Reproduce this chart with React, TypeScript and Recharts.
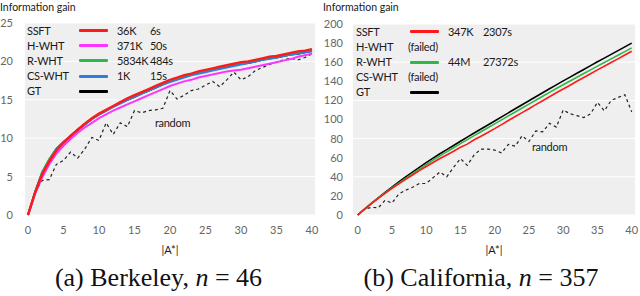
import React from 'react';
import { LineChart, Line, XAxis, YAxis, CartesianGrid } from 'recharts';

const X_VALUES = [0,1,2,3,4,5,6,7,8,9,10,11,12,13,14,15,16,17,18,19,20,21,22,23,24,25,26,27,28,29,30,31,32,33,34,35,36,37,38,39,40];
const X_TICKS = [0,5,10,15,20,25,30,35,40];
const LEFT_Y_TICKS = [0,5,10,15,20,25];
const RIGHT_Y_TICKS = [0,20,40,60,80,100,120,140,160,180,200];

// Berkeley, n = 46
const B_SSFT = [0,2.9,5.3,7.0,8.4,9.4,10.3,11.1,11.9,12.6,13.2,13.7,14.2,14.7,15.2,15.6,16.0,16.4,16.8,17.2,17.6,17.9,18.2,18.4,18.7,18.9,19.1,19.3,19.5,19.7,19.9,20.0,20.2,20.4,20.6,20.7,20.9,21.1,21.3,21.4,21.6];
const B_HWHT = [0,2.8,4.9,6.6,8.0,9.0,9.9,10.7,11.4,12.0,12.6,13.1,13.6,14.0,14.4,14.8,15.2,15.6,16.0,16.4,16.8,17.1,17.4,17.6,17.9,18.1,18.3,18.5,18.7,18.8,18.9,19.1,19.3,19.5,19.7,19.9,20.1,20.3,20.6,20.8,21.0];
const B_RWHT = [0,3.0,5.6,7.3,8.6,9.5,10.3,11.1,11.8,12.5,13.1,13.6,14.1,14.6,15.0,15.4,15.8,16.2,16.6,17.0,17.4,17.7,18.0,18.3,18.5,18.7,18.9,19.1,19.3,19.5,19.7,19.9,20.0,20.2,20.4,20.6,20.7,20.9,21.1,21.2,21.4];
const B_CSWHT = [0,2.9,5.4,7.1,8.5,9.4,10.3,11.0,11.8,12.5,13.1,13.6,14.1,14.5,15.0,15.4,15.8,16.2,16.6,17.0,17.3,17.6,17.9,18.2,18.4,18.6,18.8,19.0,19.2,19.4,19.6,19.8,20.0,20.2,20.3,20.5,20.7,20.9,21.0,21.2,21.3];
const B_GT = [0,3.0,5.5,7.2,8.6,9.5,10.3,11.1,11.8,12.5,13.1,13.6,14.1,14.6,15.0,15.4,15.8,16.2,16.6,17.0,17.4,17.7,18.0,18.3,18.5,18.7,18.9,19.1,19.3,19.5,19.7,19.8,20.0,20.2,20.4,20.5,20.7,20.9,21.0,21.2,21.4];
const B_RANDOM = [0,3.0,4.5,4.6,6.6,7.1,8.2,7.4,8.6,10.1,9.7,12.0,10.5,12.0,11.5,13.6,13.3,13.6,13.7,13.9,16.2,15.1,15.6,16.2,16.4,16.9,17.4,16.7,17.6,18.6,17.6,18.0,18.8,19.2,19.6,19.9,20.2,20.4,20.2,20.5,21.0];

// California, n = 357
const C_SSFT = [0,6.2,11.9,17.4,22.7,27.8,32.6,37.3,41.9,46.4,50.8,55.0,59.1,62.9,66.8,70.9,74.2,78.8,82.5,86.4,90.4,94.7,98.9,103.2,107.2,111.3,115.6,119.7,123.8,128.0,132.0,135.9,140.0,143.9,147.9,152.0,155.8,159.7,163.5,167.5,171.5];
const C_RWHT = [0,6.2,12.2,18.0,23.2,28.3,33.4,38.4,43.3,48.1,52.8,57.4,61.9,66.1,70.4,74.7,78.9,83.1,87.2,91.3,95.4,99.6,103.8,107.9,112.0,116.1,120.2,124.3,128.4,132.4,136.4,140.3,144.2,148.1,152.0,155.9,159.7,163.5,167.3,171.1,175.0];
const C_GT = [0,6.2,12.2,18.0,23.7,29.3,34.6,39.8,44.9,49.9,54.8,59.5,64.1,68.4,72.8,77.2,81.5,85.8,90.0,94.2,98.4,102.7,107.0,111.2,115.4,119.6,123.8,128.0,132.2,136.3,140.4,144.4,148.4,152.4,156.4,160.4,164.3,168.2,172.1,176.0,180.0];
const C_RANDOM = [0,6,8,7.5,15.5,12.5,22,26,29,33,33,39,45,40,50,59,52,63,69,69,68,65,74,72,83,77,88,87,96,92,110,106,104,102,106,118,109,120,123,126,108];

const berkeleyData = X_VALUES.map((x, i) => ({
  x, ssft: B_SSFT[i], hwht: B_HWHT[i], rwht: B_RWHT[i], cswht: B_CSWHT[i], gt: B_GT[i], random: B_RANDOM[i],
}));
const californiaData = X_VALUES.map((x, i) => ({
  x, ssft: C_SSFT[i], rwht: C_RWHT[i], gt: C_GT[i], random: C_RANDOM[i],
}));

const FONT = 'Lato, "Open Sans", sans-serif';
const TICK = { fontSize: 11, fill: '#666', fontFamily: FONT };
const RED = '#ff1a1a';
const MAGENTA = '#ff33ff';
const GREEN = '#2eb84b';
const BLUE = '#2f7fd8';

type Row = { label: string; color?: string; value?: string; time?: string; failed?: boolean };

const txt = (left: number, cy: number, s: string, extra: React.CSSProperties = {}) => (
  <div style={{ position: 'absolute', left, top: cy - 8, height: 16, lineHeight: '16px', fontSize: 11, letterSpacing: -0.3, fontFamily: FONT, color: '#1a1a1a', whiteSpace: 'nowrap', ...extra }}>{s}</div>
);

function Legend({ rows, ys, lx, sx, sw, vx, tx, fx, thick }: { rows: Row[]; ys: number[]; lx: number; sx: number; sw: number; vx: number; tx: number; fx: number; thick: number }) {
  return (
    <>
      {rows.map((r, i) => (
        <React.Fragment key={r.label}>
          {txt(lx, ys[i], r.label)}
          {r.failed ? txt(fx, ys[i], '(failed)') : null}
          {r.color ? <div style={{ position: 'absolute', left: sx, top: ys[i] - thick / 2, width: sw, height: thick, background: r.color, borderRadius: 1 }} /> : null}
          {r.value ? txt(vx, ys[i], r.value) : null}
          {r.time ? txt(tx, ys[i], r.time) : null}
        </React.Fragment>
      ))}
    </>
  );
}

const CAPTION: React.CSSProperties = { position: 'absolute', top: 263, textAlign: 'center', fontFamily: '"Liberation Serif", "DejaVu Serif", serif', fontSize: 26, lineHeight: '30px', color: '#111', whiteSpace: 'nowrap' };

export default function App() {
  return (
    <div style={{ position: 'absolute', left: 0, top: 0, width: 640, height: 296, background: '#fff', overflow: 'hidden' }}>
      {/* Left chart */}
      <div style={{ position: 'absolute', left: 0, top: 0 }}>
        <LineChart width={320} height={258} data={berkeleyData} margin={{ top: 23, right: 5, left: 0, bottom: 0 }}>
          <CartesianGrid vertical={false} stroke="#ffffff" strokeWidth={1} fill="#efefef" fillOpacity={1} />
          <XAxis type="number" dataKey="x" domain={[0, 40]} ticks={X_TICKS} padding={{ left: 3, right: 3 }} axisLine={false} tickLine={false} tickSize={6} tickMargin={5} tick={TICK} height={43}
            label={{ value: '|A*|', position: 'insideBottom', offset: 4, style: { fontSize: 11, fill: '#1a1a1a', fontFamily: FONT } }} />
          <YAxis type="number" domain={[0, 25]} ticks={LEFT_Y_TICKS} axisLine={false} tickLine={false} tickSize={6} tickMargin={6} tick={TICK} width={25} />
          <Line dataKey="random" stroke="#222" strokeWidth={1.2} strokeDasharray="3 3" dot={false} isAnimationActive={false} />
          <Line dataKey="gt" stroke="#000" strokeWidth={2} dot={false} isAnimationActive={false} />
          <Line dataKey="rwht" stroke={GREEN} strokeWidth={2} dot={false} isAnimationActive={false} />
          <Line dataKey="cswht" stroke={BLUE} strokeWidth={2} dot={false} isAnimationActive={false} />
          <Line dataKey="hwht" stroke={MAGENTA} strokeWidth={2} dot={false} isAnimationActive={false} />
          <Line dataKey="ssft" stroke={RED} strokeWidth={2.4} dot={false} isAnimationActive={false} />
        </LineChart>
      </div>
      {/* Right chart */}
      <div style={{ position: 'absolute', left: 320, top: 0 }}>
        <LineChart width={320} height={258} data={californiaData} margin={{ top: 24, right: 5, left: 0, bottom: 0 }}>
          <CartesianGrid vertical={false} stroke="#ffffff" strokeWidth={1} fill="#efefef" fillOpacity={1} />
          <XAxis type="number" dataKey="x" domain={[0, 40]} ticks={X_TICKS} padding={{ left: 4.7, right: 3.3 }} axisLine={false} tickLine={false} tickSize={6} tickMargin={5} tick={TICK} height={43}
            label={{ value: '|A*|', position: 'insideBottom', offset: 4, style: { fontSize: 11, fill: '#1a1a1a', fontFamily: FONT } }} />
          <YAxis type="number" domain={[0, 200]} ticks={RIGHT_Y_TICKS} axisLine={false} tickLine={false} tickSize={6} tickMargin={4} tick={TICK} width={33} />
          <Line dataKey="random" stroke="#222" strokeWidth={1.2} strokeDasharray="3 3" dot={false} isAnimationActive={false} />
          <Line dataKey="gt" stroke="#000" strokeWidth={1.6} dot={false} isAnimationActive={false} />
          <Line dataKey="rwht" stroke={GREEN} strokeWidth={1.6} dot={false} isAnimationActive={false} />
          <Line dataKey="ssft" stroke={RED} strokeWidth={1.6} dot={false} isAnimationActive={false} />
        </LineChart>
      </div>

      {/* Titles */}
      {txt(0, 7, 'Information gain', { fontSize: 10.5, letterSpacing: 0 })}
      {txt(323, 7, 'Information gain', { fontSize: 10.5, letterSpacing: 0 })}

      {/* Legends */}
      <Legend
        rows={[
          { label: 'SSFT', color: RED, value: '36K', time: '6s' },
          { label: 'H-WHT', color: MAGENTA, value: '371K', time: '50s' },
          { label: 'R-WHT', color: GREEN, value: '5834K', time: '484s' },
          { label: 'CS-WHT', color: BLUE, value: '1K', time: '15s' },
          { label: 'GT', color: '#000' },
        ]}
        ys={[30.7, 45.7, 60.7, 76, 91]} lx={27} sx={79} sw={29} vx={117} tx={150} fx={0} thick={3}
      />
      <Legend
        rows={[
          { label: 'SSFT', color: RED, value: '347K', time: '2307s' },
          { label: 'H-WHT', failed: true },
          { label: 'R-WHT', color: GREEN, value: '44M', time: '27372s' },
          { label: 'CS-WHT', failed: true },
          { label: 'GT', color: '#000' },
        ]}
        ys={[31.7, 47.3, 62.3, 77.3, 92.3]} lx={356} sx={410} sw={29} vx={448} tx={483} fx={408} thick={2.5}
      />

      {txt(155, 123, 'random')}
      {txt(532, 147, 'random')}

      {/* Captions */}
      <div style={{ ...CAPTION, left: 0, width: 317 }}>
        (a) Berkeley, <i>n</i> = 46
      </div>
      <div style={{ ...CAPTION, left: 320, width: 322 }}>
        (b) California, <i>n</i> = 357
      </div>
    </div>
  );
}
